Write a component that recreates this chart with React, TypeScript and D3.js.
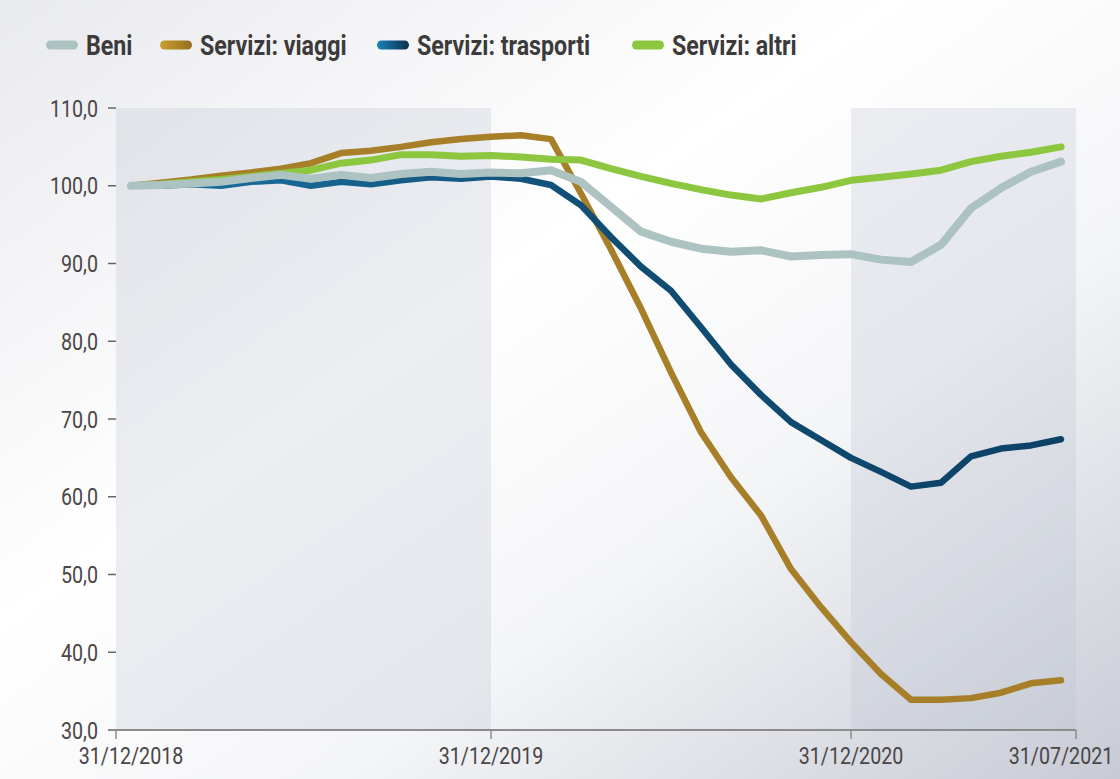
import React from 'react';
import * as d3 from 'd3';

// monthly index: 0 = dic 2018 ... 31 = lug 2021
const beni = [
  100.0, 100.1, 100.3, 100.5, 101.0, 101.4, 100.9, 101.4, 101.0, 101.5, 101.8, 101.5,
  101.7, 101.6, 102.0, 100.5, 97.3, 94.1, 92.8, 91.9, 91.5, 91.7, 90.9, 91.1,
  91.2, 90.5, 90.2, 92.4, 97.1, 99.7, 101.8, 103.1,
];
const viaggi = [
  100.0, 100.4, 100.8, 101.3, 101.7, 102.2, 102.9, 104.2, 104.5, 105.0, 105.6, 106.0,
  106.3, 106.5, 106.0, 99.0, 91.8, 84.2, 76.0, 68.3, 62.5, 57.6, 50.7, 45.8,
  41.3, 37.2, 33.9, 33.9, 34.1, 34.8, 36.0, 36.4,
];
const trasporti = [
  100.0, 100.0, 100.2, 100.0, 100.5, 100.7, 100.0, 100.5, 100.2, 100.7, 101.1, 100.9,
  101.2, 100.9, 100.1, 97.5, 93.4, 89.6, 86.5, 81.8, 77.0, 73.1, 69.6, 67.3,
  65.0, 63.2, 61.3, 61.8, 65.2, 66.2, 66.6, 67.4,
];
const altri = [
  100.0, 100.2, 100.5, 100.8, 101.2, 101.6, 102.0, 102.9, 103.3, 104.0, 104.0, 103.8,
  103.9, 103.7, 103.4, 103.3, 102.2, 101.2, 100.3, 99.5, 98.8, 98.3, 99.1, 99.8,
  100.7, 101.1, 101.5, 102.0, 103.1, 103.8, 104.3, 105.0,
];

const yTicks = [30, 40, 50, 60, 70, 80, 90, 100, 110];
const xLabels = [
  { i: 0, text: '31/12/2018' },
  { i: 12, text: '31/12/2019' },
  { i: 24, text: '31/12/2020' },
  { i: 31, text: '31/07/2021' },
];
const xTickMarks = [-0.5, 12, 24, 31.5];
const bands = [[-0.5, 12], [24, 31.5]];

const series = [
  { name: 'Servizi: viaggi', values: viaggi, stroke: '#a67f28', legend: 'url(#lgGold)', width: 6.5 },
  { name: 'Servizi: trasporti', values: trasporti, stroke: 'url(#lineBlue)', legend: 'url(#lgBlue)', width: 6.5 },
  { name: 'Servizi: altri', values: altri, stroke: '#8dc63f', legend: '#8dc63f', width: 7 },
  { name: 'Beni', values: beni, stroke: '#adc3c1', legend: '#adc3c1', width: 8 },
];

const legendOrder = ['Beni', 'Servizi: viaggi', 'Servizi: trasporti', 'Servizi: altri'];
const legendX = [46, 160, 377, 632];

// no condensed font installed -> squeeze Roboto horizontally
const font = 'Roboto, sans-serif';
const squeeze = 0.82;

export default function App() {
  const width = 1120;
  const height = 779;

  const x = d3.scaleLinear().domain([-0.5, 31.5]).range([116, 1076]);
  const y = d3.scaleLinear().domain([30, 110]).range([730, 108]);

  const line = d3.line<number>()
    .x((d, i) => x(i))
    .y((d) => y(d));

  const fmt = (v: number) => d3.format('.1f')(v).replace('.', ',');

  return (
    <svg width={width} height={height} style={{ position: 'absolute', left: 0, top: 0 }}>
      <defs>
        <linearGradient id="bg" x1="0" y1="0" x2="1" y2="1">
          <stop offset="0" stopColor="#e9eaee" />
          <stop offset="0.4" stopColor="#ffffff" />
          <stop offset="0.65" stopColor="#f4f5f7" />
          <stop offset="1" stopColor="#c8cbd5" />
        </linearGradient>
        <linearGradient id="lineBlue" gradientUnits="userSpaceOnUse" x1="116" y1="0" x2="1076" y2="0">
          <stop offset="0" stopColor="#1b73a5" />
          <stop offset="0.5" stopColor="#114e74" />
          <stop offset="1" stopColor="#0c4166" />
        </linearGradient>
        <linearGradient id="lgGold" x1="0" y1="0" x2="1" y2="0">
          <stop offset="0" stopColor="#c9a02e" />
          <stop offset="1" stopColor="#956e20" />
        </linearGradient>
        <linearGradient id="lgBlue" x1="0" y1="0" x2="1" y2="0">
          <stop offset="0" stopColor="#1a84b8" />
          <stop offset="1" stopColor="#0b2f4c" />
        </linearGradient>
      </defs>

      <rect x={0} y={0} width={width} height={height} fill="url(#bg)" />

      {bands.map((b, k) => (
        <rect key={k} x={x(b[0])} y={y(110)} width={x(b[1]) - x(b[0])} height={y(30) - y(110)}
          fill="rgb(188,193,210)" fillOpacity={0.28} />
      ))}

      {/* y axis */}
      {yTicks.map((t) => (
        <g key={t}>
          <line x1={108} x2={116} y1={y(t)} y2={y(t)} stroke="#666" strokeWidth={1.5} />
          <text transform={`translate(98,${y(t)}) scale(${squeeze},1)`} dy="0.36em" textAnchor="end"
            fontFamily={font} fontSize={24} fill="#4a4646">
            {fmt(t)}
          </text>
        </g>
      ))}

      {/* x axis */}
      <line x1={x(-0.5)} x2={x(31.5)} y1={y(30)} y2={y(30)} stroke="#8c8c8c" strokeWidth={2} />
      {xTickMarks.map((t) => (
        <line key={t} x1={x(t)} x2={x(t)} y1={y(30)} y2={y(30) + 9} stroke="#8c8c8c" strokeWidth={1.5} />
      ))}
      {xLabels.map((l) => (
        <text key={l.text} transform={`translate(${x(l.i)},764) scale(${squeeze},1)`} textAnchor="middle"
          fontFamily={font} fontSize={24} fill="#4a4646">
          {l.text}
        </text>
      ))}

      {/* lines */}
      {series.map((s) => (
        <path key={s.name} d={line(s.values) || ''} fill="none" stroke={s.stroke} strokeWidth={s.width}
          strokeLinejoin="round" strokeLinecap="round" />
      ))}

      {/* legend */}
      {legendOrder.map((name, k) => {
        const s = series.find((d) => d.name === name)!;
        return (
          <g key={name} transform={`translate(${legendX[k]},45)`}>
            <rect x={0} y={-4.5} width={32} height={9} rx={4.5} fill={s.legend} />
            <text transform={`translate(40,0) scale(0.86,1)`} dy="0.36em" fontFamily={font} fontWeight="bold"
              fontSize={27} fill="#3c3a3a">
              {name}
            </text>
          </g>
        );
      })}
    </svg>
  );
}
